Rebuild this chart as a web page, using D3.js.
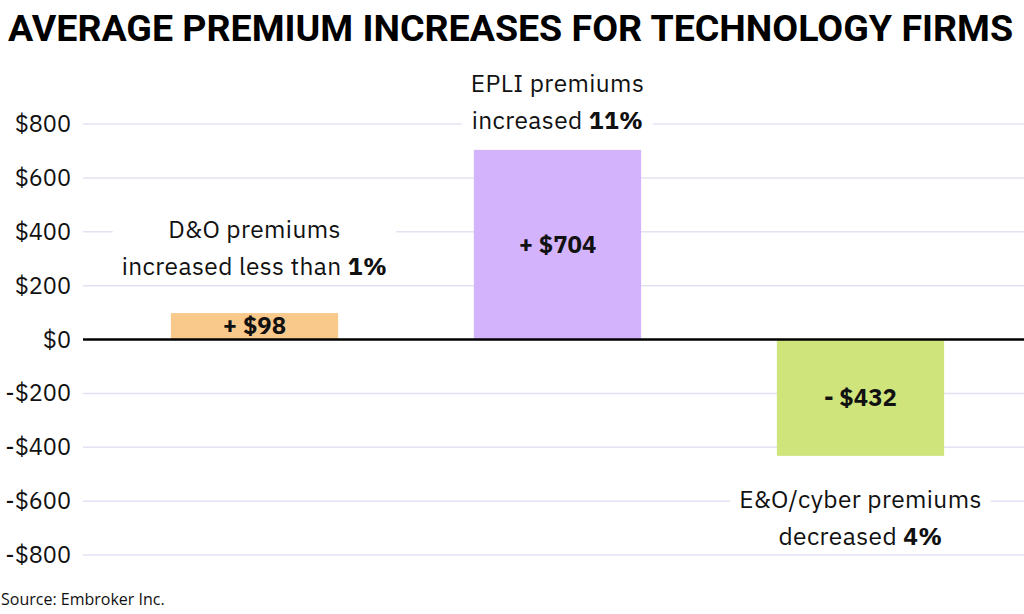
<!DOCTYPE html>
<html>
<head>
<meta charset="utf-8">
<script src="https://cdn.jsdelivr.net/npm/d3@7"></script>
<style>
  body { margin: 0; background: #fff; }
  svg { display: block; }
</style>
</head>
<body>
<div id="chart"></div>
<script>
// Data
const categories = ["D&O", "EPLI", "E&O/cyber"];
const values = [98, 704, -432];
const valueLabels = ["+ $98", "+ $704", "- $432"];
const noteLines = [
    [["D&O premiums", ""], ["increased less than ", "1%"]],
    [["EPLI premiums", ""], ["increased ", "11%"]],
    [["E&O/cyber premiums", ""], ["decreased ", "4%"]]
];
const colors = ["#f9c98c", "#d4b3fd", "#cfe57c"];
const yTicks = [-800, -600, -400, -200, 0, 200, 400, 600, 800];

const width = 1024, height = 614;
const svg = d3.select("#chart").append("svg").attr("width", width).attr("height", height);

const y = d3.scaleLinear().domain([-800, 800]).range([555, 124]);
const x = d3.scaleBand().domain(categories).range([103, 1012])
    .paddingInner(0.448).paddingOuter(0.224);

const font = "'IBM Plex Sans', 'Noto Sans', sans-serif";

// distance from bar end to first note baseline (negative = above)
const noteOffset = [-75, -58, 52];

// Gridlines
svg.append("g").selectAll("line").data(yTicks.filter(d => d !== 0)).enter().append("line")
    .attr("x1", 83).attr("x2", 1024)
    .attr("y1", d => y(d)).attr("y2", d => y(d))
    .attr("stroke", "#e4e2f2").attr("stroke-width", 1.5);

// Y tick labels
svg.append("g").selectAll("text").data(yTicks).enter().append("text")
    .attr("x", 71).attr("y", d => y(d) + 8)
    .attr("text-anchor", "end")
    .style("font-family", font).style("font-size", "23.5px").attr("fill", "#111")
    .text(d => (d < 0 ? "-$" : "$") + Math.abs(d));

// Bars
svg.append("g").selectAll("rect").data(values).enter().append("rect")
    .attr("x", (d, i) => x(categories[i]))
    .attr("y", d => y(Math.max(0, d)))
    .attr("width", x.bandwidth())
    .attr("height", d => Math.abs(y(d) - y(0)))
    .attr("fill", (d, i) => colors[i]);

// Zero line
svg.append("line").attr("x1", 83).attr("x2", 1024).attr("y1", y(0)).attr("y2", y(0))
    .attr("stroke", "#000").attr("stroke-width", 2.5);

// Value labels inside bars
svg.append("g").selectAll("text").data(values).enter().append("text")
    .attr("x", (d, i) => x(categories[i]) + x.bandwidth() / 2)
    .attr("y", d => (y(d) + y(0)) / 2 + 8)
    .attr("text-anchor", "middle")
    .style("font-family", font).style("font-size", "24px").style("font-weight", "bold")
    .attr("fill", "#111")
    .text((d, i) => valueLabels[i]);

// Annotations with white boxes behind them
noteLines.forEach((lines, i) => {
    const cx = x(categories[i]) + x.bandwidth() / 2;
    const base = y(values[i]) + noteOffset[i];
    const g = svg.append("g");
    const box = g.append("rect").attr("fill", "#fff");
    const t = g.append("text").attr("text-anchor", "middle")
        .style("font-family", font).style("font-size", "24.5px").style("letter-spacing", "0.4px")
        .attr("fill", "#111");
    lines.forEach((parts, j) => {
        const tl = t.append("tspan").attr("x", cx).attr("y", base + j * 37);
        tl.append("tspan").text(parts[0]);
        if (parts[1]) tl.append("tspan").style("font-weight", "bold").text(parts[1]);
    });
    const bb = t.node().getBBox();
    box.attr("x", bb.x - 9).attr("y", bb.y - 4).attr("width", bb.width + 18).attr("height", bb.height + 4);
});

// Title
svg.append("text").attr("x", 8).attr("y", 41)
    .attr("textLength", 1005).attr("lengthAdjust", "spacingAndGlyphs")
    .style("font-family", "Roboto, sans-serif").style("font-size", "37px").style("font-weight", "bold")
    .attr("fill", "#000")
    .text("AVERAGE PREMIUM INCREASES FOR TECHNOLOGY FIRMS");

// Source
svg.append("text").attr("x", 1).attr("y", 605)
    .style("font-family", "'Open Sans', sans-serif").style("font-size", "16px").attr("fill", "#111")
    .text("Source: Embroker Inc.");
</script>
</body>
</html>
